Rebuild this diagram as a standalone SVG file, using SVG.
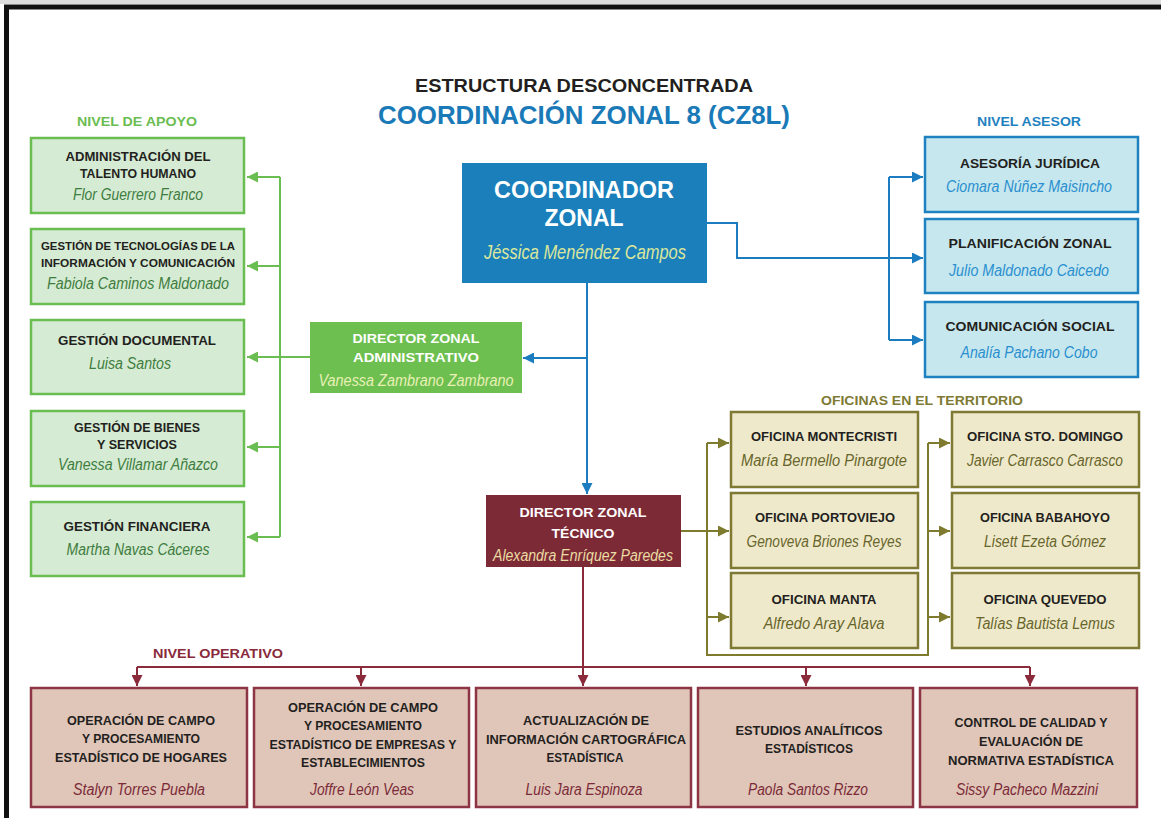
<svg xmlns="http://www.w3.org/2000/svg" width="1161" height="818" viewBox="0 0 1161 818">
<style>
text{font-family:"Liberation Sans",Arial,sans-serif;text-anchor:middle}
.b{font-weight:bold;fill:#231f20;font-size:12.5px}
.n{font-style:italic;font-size:16px}
.gbox{fill:#d5ebd3;stroke:#6abd50;stroke-width:2.5}
.abox{fill:#c6e7ed;stroke:#1f82c0;stroke-width:2.5}
.tbox{fill:#efe9cb;stroke:#7e7a33;stroke-width:2.5}
.obox{fill:#e0c5b9;stroke:#8e3545;stroke-width:2.5}
.gn{fill:#3f7d3f}
.an{fill:#2a8fd0}
.tn{fill:#67652a}
.on{fill:#7b2b37}
.cg{stroke:#6abd50;stroke-width:2;fill:none}
.cb{stroke:#1b7dc0;stroke-width:2;fill:none}
.co{stroke:#7f7b2e;stroke-width:2;fill:none}
.cm{stroke:#8a2a3b;stroke-width:2;fill:none}
</style>
<defs>
<marker id="ag" viewBox="0 0 10 10" refX="10" refY="5" markerWidth="11" markerHeight="11" markerUnits="userSpaceOnUse" orient="auto"><path d="M0,0 L10,5 L0,10 z" fill="#6abd50"/></marker>
<marker id="ab" viewBox="0 0 10 10" refX="10" refY="5" markerWidth="11" markerHeight="11" markerUnits="userSpaceOnUse" orient="auto"><path d="M0,0 L10,5 L0,10 z" fill="#1b7dc0"/></marker>
<marker id="ao" viewBox="0 0 10 10" refX="10" refY="5" markerWidth="11" markerHeight="11" markerUnits="userSpaceOnUse" orient="auto"><path d="M0,0 L10,5 L0,10 z" fill="#7f7b2e"/></marker>
<marker id="am" viewBox="0 0 10 10" refX="10" refY="5" markerWidth="11" markerHeight="11" markerUnits="userSpaceOnUse" orient="auto"><path d="M0,0 L10,5 L0,10 z" fill="#8a2a3b"/></marker>
</defs>
<rect x="0" y="0" width="1161" height="818" fill="#ffffff"/>
<rect x="0" y="0" width="1161" height="4" fill="#dcdcdc"/>
<path d="M6.5,818 V7 H1161" fill="none" stroke="#111111" stroke-width="5"/>

<g id="titles">
<text x="584" y="92" style="font-weight:bold;font-size:19px;fill:#231f20" textLength="338" lengthAdjust="spacingAndGlyphs">ESTRUCTURA DESCONCENTRADA</text>
<text x="584" y="124" style="font-weight:bold;font-size:25px;fill:#1a7ab8" textLength="412" lengthAdjust="spacingAndGlyphs">COORDINACIÓN ZONAL 8 (CZ8L)</text>
<text x="137" y="126" style="font-weight:bold;font-size:13px;fill:#6abd50" textLength="120" lengthAdjust="spacingAndGlyphs">NIVEL DE APOYO</text>
<text x="1029" y="126" style="font-weight:bold;font-size:13px;fill:#1f82c0" textLength="104" lengthAdjust="spacingAndGlyphs">NIVEL ASESOR</text>
<text x="922" y="405" style="font-weight:bold;font-size:13px;fill:#7e7a33" textLength="202" lengthAdjust="spacingAndGlyphs">OFICINAS EN EL TERRITORIO</text>
<text x="218" y="658" style="font-weight:bold;font-size:13px;fill:#8a2a3b" textLength="130" lengthAdjust="spacingAndGlyphs">NIVEL OPERATIVO</text>
</g>

<g id="connectors">
<path class="cg" d="M310,357 H247" marker-end="url(#ag)"/>
<path class="cg" d="M280,177 V537"/>
<path class="cg" d="M280,177 H247" marker-end="url(#ag)"/>
<path class="cg" d="M280,266 H247" marker-end="url(#ag)"/>
<path class="cg" d="M280,447 H247" marker-end="url(#ag)"/>
<path class="cg" d="M280,537 H247" marker-end="url(#ag)"/>
<path class="cb" d="M587,283 V494" marker-end="url(#ab)"/>
<path class="cb" d="M587,358 H523" marker-end="url(#ab)"/>
<path class="cb" d="M707,223 H737 V258 H923" marker-end="url(#ab)"/>
<path class="cb" d="M889,177 V340"/>
<path class="cb" d="M889,177 H923" marker-end="url(#ab)"/>
<path class="cb" d="M889,340 H923" marker-end="url(#ab)"/>
<path class="co" d="M681,531 H729" marker-end="url(#ao)"/>
<path class="co" d="M707,443 V655 H928 V443"/>
<path class="co" d="M707,443 H729" marker-end="url(#ao)"/>
<path class="co" d="M707,617 H729" marker-end="url(#ao)"/>
<path class="co" d="M928,443 H950" marker-end="url(#ao)"/>
<path class="co" d="M928,531 H950" marker-end="url(#ao)"/>
<path class="co" d="M928,617 H950" marker-end="url(#ao)"/>
<path class="cm" d="M583,567 V686" marker-end="url(#am)"/>
<path class="cm" d="M137,667 H1030"/>
<path class="cm" d="M137,667 V686" marker-end="url(#am)"/>
<path class="cm" d="M361,667 V686" marker-end="url(#am)"/>
<path class="cm" d="M806,667 V686" marker-end="url(#am)"/>
<path class="cm" d="M1030,667 V686" marker-end="url(#am)"/>
</g>

<g id="coordinador">
<rect x="462" y="163" width="245" height="120" fill="#1a7fbb"/>
<text x="584" y="198" style="font-weight:bold;font-size:23px;fill:#ffffff" textLength="180" lengthAdjust="spacingAndGlyphs">COORDINADOR</text>
<text x="584" y="226" style="font-weight:bold;font-size:23px;fill:#ffffff" textLength="79" lengthAdjust="spacingAndGlyphs">ZONAL</text>
<text x="585" y="259" class="n" style="font-size:21px;fill:#dbe79c" textLength="202" lengthAdjust="spacingAndGlyphs">Jéssica Menéndez Campos</text>
</g>

<g id="dir-administrativo">
<rect x="310" y="322" width="212" height="71" fill="#6dbf4f"/>
<text x="416" y="343" class="b" style="fill:#ffffff" textLength="127" lengthAdjust="spacingAndGlyphs">DIRECTOR ZONAL</text>
<text x="416" y="362" class="b" style="fill:#ffffff" textLength="126" lengthAdjust="spacingAndGlyphs">ADMINISTRATIVO</text>
<text x="416" y="386" class="n" style="fill:#e8f0b6" textLength="195" lengthAdjust="spacingAndGlyphs">Vanessa Zambrano Zambrano</text>
</g>

<g id="dir-tecnico">
<rect x="486" y="495" width="195" height="72" fill="#7d2a37"/>
<text x="583" y="517" class="b" style="fill:#ffffff" textLength="127" lengthAdjust="spacingAndGlyphs">DIRECTOR ZONAL</text>
<text x="583" y="538" class="b" style="fill:#ffffff" textLength="63" lengthAdjust="spacingAndGlyphs">TÉCNICO</text>
<text x="583" y="561" class="n" style="fill:#eadca2" textLength="180" lengthAdjust="spacingAndGlyphs">Alexandra Enríquez Paredes</text>
</g>

<g id="apoyo-talento">
<rect class="gbox" x="31" y="138" width="213" height="75"/>
<text x="138" y="161" class="b" textLength="145" lengthAdjust="spacingAndGlyphs">ADMINISTRACIÓN DEL</text>
<text x="138" y="178" class="b" textLength="116" lengthAdjust="spacingAndGlyphs">TALENTO HUMANO</text>
<text x="138" y="200" class="n gn" textLength="130" lengthAdjust="spacingAndGlyphs">Flor Guerrero Franco</text>
</g>
<g id="apoyo-tic">
<rect class="gbox" x="31" y="229" width="213" height="75"/>
<text x="138" y="250" class="b" style="font-size:11.5px" textLength="194" lengthAdjust="spacingAndGlyphs">GESTIÓN DE TECNOLOGÍAS DE LA</text>
<text x="138" y="267" class="b" style="font-size:11.5px" textLength="194" lengthAdjust="spacingAndGlyphs">INFORMACIÓN Y COMUNICACIÓN</text>
<text x="138" y="289" class="n gn" textLength="182" lengthAdjust="spacingAndGlyphs">Fabiola Caminos Maldonado</text>
</g>
<g id="apoyo-documental">
<rect class="gbox" x="31" y="320" width="213" height="74"/>
<text x="137" y="345" class="b" textLength="158" lengthAdjust="spacingAndGlyphs">GESTIÓN DOCUMENTAL</text>
<text x="130" y="369" class="n gn" textLength="82" lengthAdjust="spacingAndGlyphs">Luisa Santos</text>
</g>
<g id="apoyo-bienes">
<rect class="gbox" x="31" y="411" width="213" height="75"/>
<text x="137" y="432" class="b" textLength="126" lengthAdjust="spacingAndGlyphs">GESTIÓN DE BIENES</text>
<text x="137" y="449" class="b" textLength="80" lengthAdjust="spacingAndGlyphs">Y SERVICIOS</text>
<text x="138" y="470" class="n gn" textLength="160" lengthAdjust="spacingAndGlyphs">Vanessa Villamar Añazco</text>
</g>
<g id="apoyo-financiera">
<rect class="gbox" x="31" y="502" width="213" height="74"/>
<text x="137" y="531" class="b" textLength="147" lengthAdjust="spacingAndGlyphs">GESTIÓN FINANCIERA</text>
<text x="138" y="555" class="n gn" textLength="143" lengthAdjust="spacingAndGlyphs">Martha Navas Cáceres</text>
</g>

<g id="asesor-juridica">
<rect class="abox" x="925" y="137" width="213" height="75"/>
<text x="1030" y="168" class="b" textLength="140" lengthAdjust="spacingAndGlyphs">ASESORÍA JURÍDICA</text>
<text x="1029" y="192" class="n an" textLength="166" lengthAdjust="spacingAndGlyphs">Ciomara Núñez Maisincho</text>
</g>
<g id="asesor-planificacion">
<rect class="abox" x="925" y="219" width="213" height="74"/>
<text x="1030" y="248" class="b" textLength="163" lengthAdjust="spacingAndGlyphs">PLANIFICACIÓN ZONAL</text>
<text x="1029" y="276" class="n an" textLength="160" lengthAdjust="spacingAndGlyphs">Julio Maldonado Caicedo</text>
</g>
<g id="asesor-comunicacion">
<rect class="abox" x="925" y="302" width="213" height="75"/>
<text x="1030" y="331" class="b" textLength="169" lengthAdjust="spacingAndGlyphs">COMUNICACIÓN SOCIAL</text>
<text x="1029" y="358" class="n an" textLength="137" lengthAdjust="spacingAndGlyphs">Analía Pachano Cobo</text>
</g>

<g id="oficina-montecristi">
<rect class="tbox" x="731" y="412" width="187" height="75"/>
<text x="824" y="441" class="b" textLength="146" lengthAdjust="spacingAndGlyphs">OFICINA MONTECRISTI</text>
<text x="824" y="466" class="n tn" textLength="166" lengthAdjust="spacingAndGlyphs">María Bermello Pinargote</text>
</g>
<g id="oficina-portoviejo">
<rect class="tbox" x="731" y="493" width="187" height="75"/>
<text x="825" y="522" class="b" textLength="140" lengthAdjust="spacingAndGlyphs">OFICINA PORTOVIEJO</text>
<text x="824" y="547" class="n tn" textLength="155" lengthAdjust="spacingAndGlyphs">Genoveva Briones Reyes</text>
</g>
<g id="oficina-manta">
<rect class="tbox" x="731" y="573" width="187" height="75"/>
<text x="824" y="604" class="b" textLength="105" lengthAdjust="spacingAndGlyphs">OFICINA MANTA</text>
<text x="824" y="629" class="n tn" textLength="121" lengthAdjust="spacingAndGlyphs">Alfredo Aray Alava</text>
</g>
<g id="oficina-santo-domingo">
<rect class="tbox" x="952" y="412" width="187" height="75"/>
<text x="1045" y="441" class="b" textLength="156" lengthAdjust="spacingAndGlyphs">OFICINA STO. DOMINGO</text>
<text x="1045" y="466" class="n tn" textLength="156" lengthAdjust="spacingAndGlyphs">Javier Carrasco Carrasco</text>
</g>
<g id="oficina-babahoyo">
<rect class="tbox" x="952" y="493" width="187" height="75"/>
<text x="1045" y="522" class="b" textLength="130" lengthAdjust="spacingAndGlyphs">OFICINA BABAHOYO</text>
<text x="1045" y="547" class="n tn" textLength="122" lengthAdjust="spacingAndGlyphs">Lisett Ezeta Gómez</text>
</g>
<g id="oficina-quevedo">
<rect class="tbox" x="952" y="573" width="187" height="75"/>
<text x="1045" y="604" class="b" textLength="123" lengthAdjust="spacingAndGlyphs">OFICINA QUEVEDO</text>
<text x="1045" y="629" class="n tn" textLength="140" lengthAdjust="spacingAndGlyphs">Talías Bautista Lemus</text>
</g>

<g id="op-hogares">
<rect class="obox" x="31" y="688" width="216" height="119"/>
<text x="141" y="725" class="b" textLength="148" lengthAdjust="spacingAndGlyphs">OPERACIÓN DE CAMPO</text>
<text x="141" y="743" class="b" textLength="118" lengthAdjust="spacingAndGlyphs">Y PROCESAMIENTO</text>
<text x="141" y="762" class="b" textLength="172" lengthAdjust="spacingAndGlyphs">ESTADÍSTICO DE HOGARES</text>
<text x="139" y="795" class="n on" textLength="132" lengthAdjust="spacingAndGlyphs">Stalyn Torres Puebla</text>
</g>
<g id="op-empresas">
<rect class="obox" x="254" y="688" width="215" height="119"/>
<text x="363" y="712" class="b" textLength="150" lengthAdjust="spacingAndGlyphs">OPERACIÓN DE CAMPO</text>
<text x="363" y="730" class="b" textLength="118" lengthAdjust="spacingAndGlyphs">Y PROCESAMIENTO</text>
<text x="363" y="749" class="b" textLength="187" lengthAdjust="spacingAndGlyphs">ESTADÍSTICO DE EMPRESAS Y</text>
<text x="363" y="767" class="b" textLength="124" lengthAdjust="spacingAndGlyphs">ESTABLECIMIENTOS</text>
<text x="362" y="795" class="n on" textLength="104" lengthAdjust="spacingAndGlyphs">Joffre León Veas</text>
</g>
<g id="op-cartografia">
<rect class="obox" x="476" y="688" width="215" height="119"/>
<text x="586" y="725" class="b" textLength="126" lengthAdjust="spacingAndGlyphs">ACTUALIZACIÓN DE</text>
<text x="586" y="744" class="b" textLength="200" lengthAdjust="spacingAndGlyphs">INFORMACIÓN CARTOGRÁFICA</text>
<text x="585" y="762" class="b" textLength="77" lengthAdjust="spacingAndGlyphs">ESTADÍSTICA</text>
<text x="584" y="795" class="n on" textLength="117" lengthAdjust="spacingAndGlyphs">Luis Jara Espinoza</text>
</g>
<g id="op-estudios">
<rect class="obox" x="698" y="688" width="215" height="119"/>
<text x="809" y="735" class="b" textLength="147" lengthAdjust="spacingAndGlyphs">ESTUDIOS ANALÍTICOS</text>
<text x="809" y="753" class="b" textLength="88" lengthAdjust="spacingAndGlyphs">ESTADÍSTICOS</text>
<text x="808" y="795" class="n on" textLength="120" lengthAdjust="spacingAndGlyphs">Paola Santos Rizzo</text>
</g>
<g id="op-calidad">
<rect class="obox" x="920" y="688" width="217" height="119"/>
<text x="1031" y="727" class="b" textLength="153" lengthAdjust="spacingAndGlyphs">CONTROL DE CALIDAD Y</text>
<text x="1031" y="746" class="b" textLength="104" lengthAdjust="spacingAndGlyphs">EVALUACIÓN DE</text>
<text x="1031" y="765" class="b" textLength="166" lengthAdjust="spacingAndGlyphs">NORMATIVA ESTADÍSTICA</text>
<text x="1027" y="795" class="n on" textLength="142" lengthAdjust="spacingAndGlyphs">Sissy Pacheco Mazzini</text>
</g>
</svg>
